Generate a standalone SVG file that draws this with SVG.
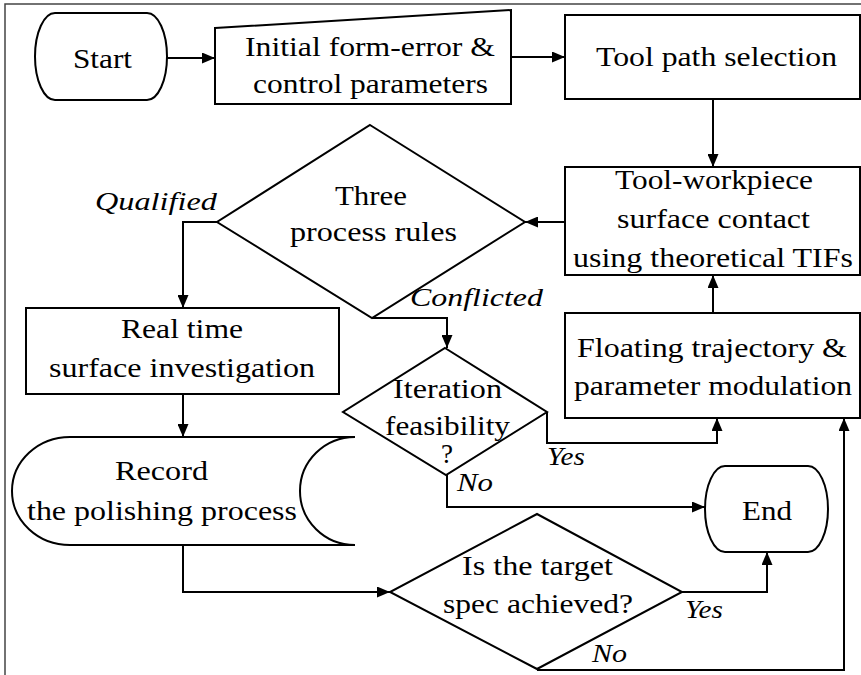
<svg xmlns="http://www.w3.org/2000/svg" width="861" height="675" viewBox="0 0 861 675">
<defs>
<marker id="ah" viewBox="0 0 13 11" refX="13" refY="5.5" markerWidth="13" markerHeight="11" markerUnits="userSpaceOnUse" orient="auto">
<path d="M0,0 L13,5.5 L0,11 Z" fill="#000"/>
</marker>
</defs>
<style>
.s{fill:#fff;stroke:#000;stroke-width:2}
.c{fill:none;stroke:#000;stroke-width:2;marker-end:url(#ah)}
.t{font-size:27px;fill:#000}
.i{font-size:26px;font-style:italic;fill:#000}
</style>
<rect width="861" height="675" fill="#fff"/>
<path d="M5,675 V4 H861" fill="none" stroke="#444" stroke-width="1.5"/>
<g font-family="Liberation Serif, Times New Roman, Tinos, serif">
<g id="start">
<path class="s" d="M55,13 H147 A20,43.5 0 0 1 147,100 H55 A20,43.5 0 0 1 55,13 Z"/>
<text class="t" x="73" y="68" textLength="59" lengthAdjust="spacingAndGlyphs">Start</text>
</g>
<g id="initial">
<path class="s" d="M215,28 L511,10 V104 H215 Z"/>
<text class="t" x="245" y="56" textLength="250" lengthAdjust="spacingAndGlyphs">Initial form-error &amp;</text>
<text class="t" x="253" y="93" textLength="235" lengthAdjust="spacingAndGlyphs">control parameters</text>
</g>
<g id="toolpath">
<rect class="s" x="565" y="15" width="295" height="84"/>
<text class="t" x="596" y="66" textLength="241" lengthAdjust="spacingAndGlyphs">Tool path selection</text>
</g>
<g id="contact">
<rect class="s" x="565" y="167" width="295" height="108"/>
<text class="t" x="615" y="189" textLength="198" lengthAdjust="spacingAndGlyphs">Tool-workpiece</text>
<text class="t" x="617" y="228" textLength="193" lengthAdjust="spacingAndGlyphs">surface contact</text>
<text class="t" x="573" y="267" textLength="280" lengthAdjust="spacingAndGlyphs">using theoretical TIFs</text>
</g>
<g id="rules">
<path class="s" d="M370,125 L525,222 L372,318 L217,222 Z"/>
<text class="t" x="335" y="205" textLength="72" lengthAdjust="spacingAndGlyphs">Three</text>
<text class="t" x="290" y="241" textLength="167" lengthAdjust="spacingAndGlyphs">process rules</text>
</g>
<g id="floating">
<rect class="s" x="565" y="313" width="295" height="105"/>
<text class="t" x="577" y="357" textLength="270" lengthAdjust="spacingAndGlyphs">Floating trajectory &amp;</text>
<text class="t" x="574" y="395" textLength="278" lengthAdjust="spacingAndGlyphs">parameter modulation</text>
</g>
<g id="realtime">
<rect class="s" x="26" y="308" width="313" height="86"/>
<text class="t" x="121" y="338" textLength="122" lengthAdjust="spacingAndGlyphs">Real time</text>
<text class="t" x="49" y="377" textLength="266" lengthAdjust="spacingAndGlyphs">surface investigation</text>
</g>
<g id="iteration">
<path class="s" d="M445,348 L547,412 L446,475 L343,412 Z"/>
<text class="t" x="393" y="398" textLength="109" lengthAdjust="spacingAndGlyphs">Iteration</text>
<text class="t" x="385" y="435" textLength="125" lengthAdjust="spacingAndGlyphs">feasibility</text>
<text class="t" x="441" y="463" textLength="12" lengthAdjust="spacingAndGlyphs">?</text>
</g>
<g id="record">
<path class="s" d="M70,437 H355 A55,54 0 0 0 355,545 H70 A58,54 0 0 1 70,437 Z"/>
<text class="t" x="115" y="480" textLength="93" lengthAdjust="spacingAndGlyphs">Record</text>
<text class="t" x="27" y="520" textLength="270" lengthAdjust="spacingAndGlyphs">the polishing process</text>
</g>
<g id="end">
<path class="s" d="M725,466 H808 A20,43 0 0 1 808,552 H725 A20,43 0 0 1 725,466 Z"/>
<text class="t" x="742" y="520" textLength="50" lengthAdjust="spacingAndGlyphs">End</text>
</g>
<g id="target">
<path class="s" d="M537,514 L682,592 L537,669 L390,592 Z"/>
<text class="t" x="462" y="575" textLength="151" lengthAdjust="spacingAndGlyphs">Is the target</text>
<text class="t" x="443" y="613" textLength="190" lengthAdjust="spacingAndGlyphs">spec achieved?</text>
</g>

<g id="connectors">
<path class="c" d="M167,58 H215"/>
<path class="c" d="M511,57 H565"/>
<path class="c" d="M713,99 V167"/>
<path class="c" d="M565,222 H525"/>
<path class="c" d="M217,222 H183 V308"/>
<path class="c" d="M372,318 H447 V348"/>
<path class="c" d="M183,394 V437"/>
<path class="c" d="M547,412 V443 H717 V418"/>
<path class="c" d="M713,313 V275"/>
<path class="c" d="M447,475 V507 H705"/>
<path class="c" d="M183,545 V592 H390"/>
<path class="c" d="M682,592 H767 V552"/>
<path class="c" d="M537,670 H844 V418"/>
</g>

<g id="labels">
<text class="i" x="95" y="210" textLength="122" lengthAdjust="spacingAndGlyphs">Qualified</text>
<text class="i" x="410" y="306" textLength="133" lengthAdjust="spacingAndGlyphs">Conflicted</text>
<text class="i" x="547" y="465" textLength="38" lengthAdjust="spacingAndGlyphs">Yes</text>
<text class="i" x="457" y="491" textLength="36" lengthAdjust="spacingAndGlyphs">No</text>
<text class="i" x="685" y="618" textLength="38" lengthAdjust="spacingAndGlyphs">Yes</text>
<text class="i" x="592" y="662" textLength="35" lengthAdjust="spacingAndGlyphs">No</text>
</g>
</g>
</svg>
